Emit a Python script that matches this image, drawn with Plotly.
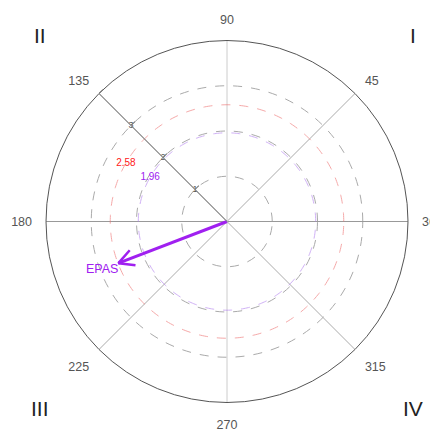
import numpy as np
import plotly.graph_objects as go

# ---- data ----
angle_ticks = [0, 45, 90, 135, 180, 225, 270, 315]
angle_labels = ["360", "45", "90", "135", "180", "225", "270", "315"]
radial_ticks = [1, 2, 3, 4]
radial_labels = ["1", "2", "3", "4"]
crit_values = [1.96, 2.58]
crit_labels = ["1.96", "2.58"]
crit_colors = ["#b07cf0", "#f07070"]
crit_label_colors = ["#a020f0", "#ff2020"]
vec_names = ["EPAS"]
vec_r = [2.57]
vec_theta = [201]
quadrants = ["I", "II", "III", "IV"]

RMAX = 4
PURPLE = "#a020f0"
ML, MR, MT, MB = 38, 30, 32, 31
W, H = 430, 426
PW, PH = W - ML - MR, H - MT - MB

fig = go.Figure()

# spokes
spoke_colors = {0: "#999999", 180: "#999999", 90: "#cccccc", 270: "#cccccc"}
for a in angle_ticks:
    fig.add_trace(go.Scatterpolar(r=[0, RMAX], theta=[a, a], mode="lines",
                                  line=dict(color=spoke_colors.get(a, "#aaaaaa"), width=1),
                                  hoverinfo="skip", showlegend=False))

# critical circles
th = np.linspace(0, 360, 361)
for v, c in zip(crit_values, crit_colors):
    fig.add_trace(go.Scatterpolar(r=np.full_like(th, v), theta=th, mode="lines",
                                  line=dict(color=c, width=1, dash="dash"),
                                  opacity=0.6, hoverinfo="skip", showlegend=False))

# critical labels
fig.add_trace(go.Scatterpolar(r=crit_values, theta=[150, 150], mode="text",
                              text=crit_labels, textposition="middle center",
                              textfont=dict(size=10, color=crit_label_colors, family="Liberation Sans"),
                              hoverinfo="skip", showlegend=False))

# radial tick labels along 135
fig.add_trace(go.Scatterpolar(r=radial_ticks[:3], theta=[135] * 3, mode="text",
                              text=radial_labels[:3], textposition="middle center",
                              textfont=dict(size=9, color="#555555", family="Liberation Sans"),
                              hoverinfo="skip", showlegend=False))

# vectors
for name, r, t in zip(vec_names, vec_r, vec_theta):
    fig.add_trace(go.Scatterpolar(r=[0, r], theta=[t, t], mode="lines",
                                  line=dict(color=PURPLE, width=3),
                                  hoverinfo="skip", showlegend=False))
    tx, ty = r * np.cos(np.radians(t)), r * np.sin(np.radians(t))
    back = np.radians(t + 180)
    hl = 0.38
    pts_r, pts_t = [], []
    for d in (-28, 28):
        ang = back + np.radians(d)
        bx, by = tx + hl * np.cos(ang), ty + hl * np.sin(ang)
        pts_r.append(np.hypot(bx, by))
        pts_t.append(np.degrees(np.arctan2(by, bx)) % 360)
    fig.add_trace(go.Scatterpolar(r=[pts_r[0], r, pts_r[1]], theta=[pts_t[0], t, pts_t[1]],
                                  mode="lines", line=dict(color=PURPLE, width=2.5),
                                  hoverinfo="skip", showlegend=False))
    fig.add_trace(go.Scatterpolar(r=[r], theta=[t], mode="text", text=[name],
                                  textposition="bottom left",
                                  textfont=dict(size=12.5, color=PURPLE, family="Liberation Sans"),
                                  hoverinfo="skip", showlegend=False))

fig.update_layout(
    width=W, height=H,
    margin=dict(l=ML, r=MR, t=MT, b=MB),
    paper_bgcolor="white",
    font=dict(family="Liberation Sans", color="#555555"),
    polar=dict(
        bgcolor="white",
        radialaxis=dict(range=[0, RMAX], angle=135, tickangle=135,
                        tickvals=radial_ticks, showticklabels=False,
                        ticks="outside", ticklen=5, tickcolor="#777777",
                        showline=True, linecolor="#888888", linewidth=1,
                        showgrid=True, gridcolor="#aaaaaa", griddash="dash", gridwidth=1),
        angularaxis=dict(rotation=0, direction="counterclockwise",
                         tickmode="array", tickvals=angle_ticks, ticktext=angle_labels,
                         tickfont=dict(size=12.5, color="#555555"),
                         ticks="outside", ticklen=11, tickcolor="rgba(0,0,0,0)",
                         showgrid=False, showline=True, linecolor="#555555", linewidth=1),
    ),
)

# quadrant labels: screen positions (page px, with 8px body offset)
qpos = [(413, 36), (40, 36), (40, 408), (413, 408)]
for q, (X, Y) in zip(quadrants, qpos):
    fig.add_annotation(x=(X - 8 - ML) / PW, y=1 - (Y - 8 - MT) / PH, xref="paper", yref="paper",
                       text=q, showarrow=False,
                       font=dict(size=21, color="#222222", family="Liberation Sans"),
                       xanchor="center", yanchor="middle")

fig.write_html("out.html")
